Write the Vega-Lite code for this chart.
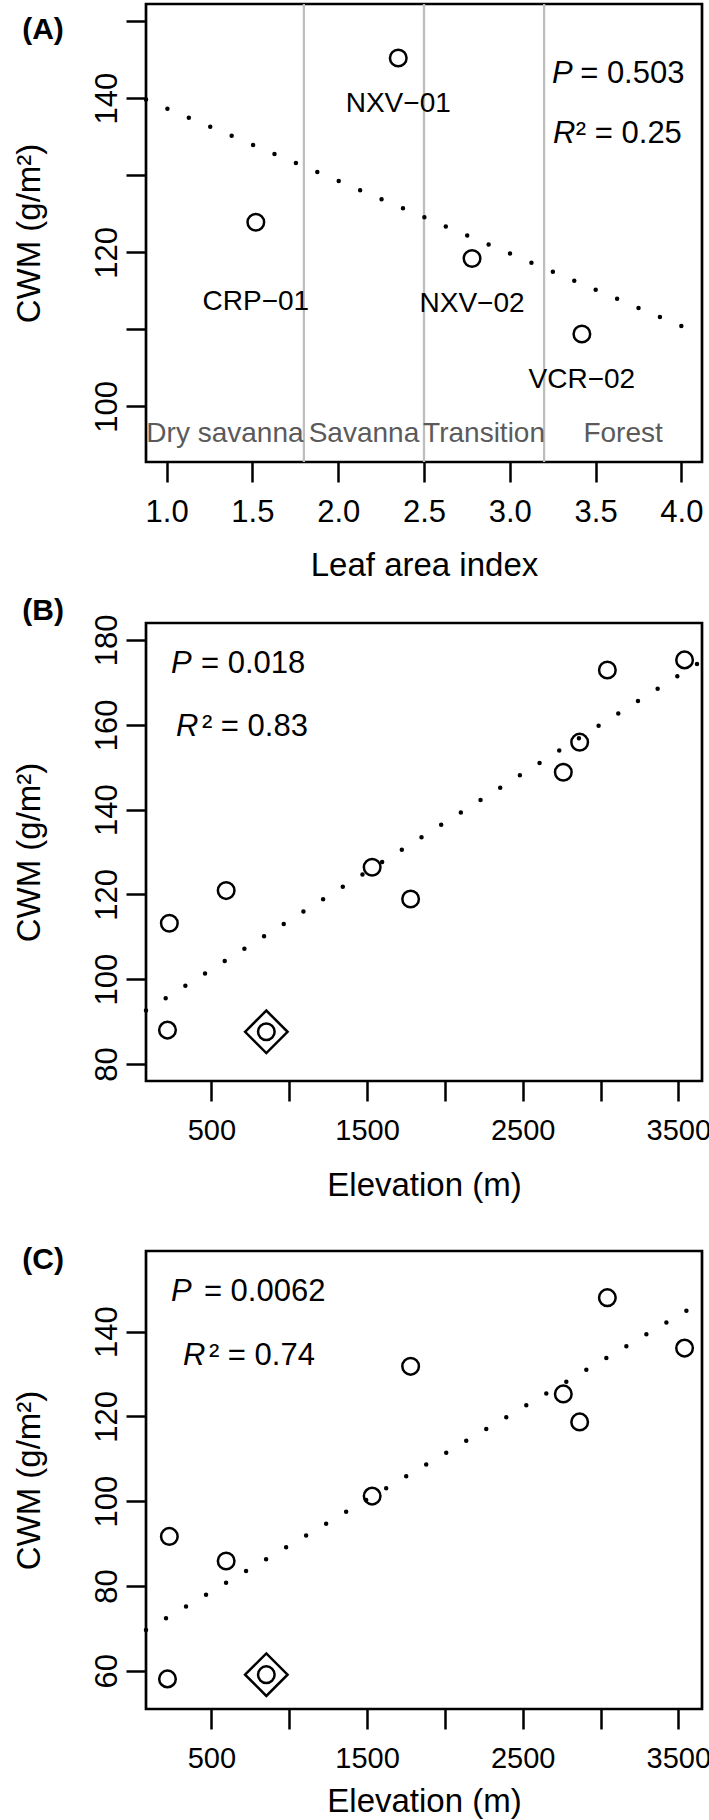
{
  "$schema": "https://vega.github.io/schema/vega-lite/v6.json",
  "background": "white",
  "padding": {"left": 11, "top": 1, "right": 0, "bottom": 0},
  "datasets": {
    "lai": [
      {"site": "CRP−01", "lai": 1.52, "cwm": 123.9},
      {"site": "NXV−01", "lai": 2.35, "cwm": 145.2},
      {"site": "NXV−02", "lai": 2.78, "cwm": 119.2},
      {"site": "VCR−02", "lai": 3.42, "cwm": 109.4}
    ],
    "zones": [
      {"zone": "Dry savanna", "mid": 1.34},
      {"zone": "Savanna", "mid": 2.15},
      {"zone": "Transition", "mid": 2.85},
      {"zone": "Forest", "mid": 3.66}
    ],
    "edges": [{"edge": 1.8}, {"edge": 2.5}, {"edge": 3.2}],
    "fitA": [{"lai": 0.88, "cwm": 139.8}, {"lai": 4.12, "cwm": 109.3}],
    "elev": [
      {"elev": 218, "b": 88.0, "c": 58.1, "marked": false},
      {"elev": 230, "b": 113.2, "c": 91.7, "marked": false},
      {"elev": 595, "b": 120.9, "c": 85.9, "marked": false},
      {"elev": 853, "b": 87.6, "c": 59.1, "marked": true},
      {"elev": 1533, "b": 126.4, "c": 101.2, "marked": false},
      {"elev": 1780, "b": 118.9, "c": 131.8, "marked": false},
      {"elev": 2761, "b": 148.8, "c": 125.3, "marked": false},
      {"elev": 2866, "b": 155.9, "c": 118.7, "marked": false},
      {"elev": 3044, "b": 172.9, "c": 148.0, "marked": false},
      {"elev": 3540, "b": 175.3, "c": 136.1, "marked": false}
    ],
    "fitB": [{"elev": 80, "cwm": 92.6}, {"elev": 3652, "cwm": 175.1}],
    "fitC": [{"elev": 80, "cwm": 69.6}, {"elev": 3652, "cwm": 147.1}]
  },
  "spacing": 10,
  "vconcat": [
    {
      "width": 556,
      "height": 458,
      "layer": [
        {
          "data": {"name": "edges"},
          "mark": {"type": "rule", "color": "#bebebe", "strokeWidth": 2.3},
          "encoding": {
            "x": {"field": "edge", "type": "quantitative", "title": "Leaf area index",
              "scale": {"domain": [0.88, 4.12], "nice": false, "zero": false},
              "axis": {"values": [1, 1.5, 2, 2.5, 3, 3.5, 4], "format": ".1f"}}
          }
        },
        {
          "data": {"name": "fitA"},
          "mark": {"type": "line", "color": "black", "strokeWidth": 4.5, "strokeCap": "round", "strokeDash": [0, 23.25]},
          "encoding": {
            "x": {"field": "lai", "type": "quantitative", "title": "Leaf area index"},
            "y": {"field": "cwm", "type": "quantitative", "title": "CWM (g/m²)",
              "scale": {"domain": [92.8, 152.2], "nice": false, "zero": false},
              "axis": {"values": [100, 110, 120, 130, 140, 150], "labelExpr": "datum.value % 20 == 0 ? datum.label : ''"}}
          }
        },
        {
          "data": {"name": "lai"},
          "mark": {"type": "point", "shape": "circle", "filled": false, "color": "black", "size": 275, "strokeWidth": 2.5, "opacity": 1},
          "encoding": {
            "x": {"field": "lai", "type": "quantitative", "title": "Leaf area index"},
            "y": {"field": "cwm", "type": "quantitative", "title": "CWM (g/m²)"}
          }
        },
        {
          "data": {"name": "lai"},
          "transform": [{"filter": "datum.site == 'CRP−01'"}],
          "mark": {"type": "text", "fontSize": 28, "align": "center", "baseline": "middle", "dy": 80},
          "encoding": {
            "x": {"field": "lai", "type": "quantitative", "title": "Leaf area index"},
            "y": {"field": "cwm", "type": "quantitative", "title": "CWM (g/m²)"},
            "text": {"field": "site"}
          }
        },
        {
          "data": {"name": "lai"},
          "transform": [{"filter": "datum.site != 'CRP−01'"}],
          "mark": {"type": "text", "fontSize": 28, "align": "center", "baseline": "middle", "dy": 46},
          "encoding": {
            "x": {"field": "lai", "type": "quantitative", "title": "Leaf area index"},
            "y": {"field": "cwm", "type": "quantitative", "title": "CWM (g/m²)"},
            "text": {"field": "site"}
          }
        },
        {
          "data": {"name": "zones"},
          "mark": {"type": "text", "fontSize": 28, "align": "center", "baseline": "middle", "color": "#5a5a5a"},
          "encoding": {
            "x": {"field": "mid", "type": "quantitative", "title": "Leaf area index"},
            "y": {"datum": 96.4, "type": "quantitative"},
            "text": {"field": "zone"}
          }
        },
        {
          "data": {"values": [{"t": "P"}]},
          "mark": {"type": "text", "fontSize": 31, "fontStyle": "italic", "align": "left", "baseline": "middle"},
          "encoding": {"x": {"datum": 3.246, "type": "quantitative"}, "y": {"datum": 143.1, "type": "quantitative"}, "text": {"field": "t"}}
        },
        {
          "data": {"values": [{"t": "= 0.503"}]},
          "mark": {"type": "text", "fontSize": 31, "align": "left", "baseline": "middle"},
          "encoding": {"x": {"datum": 3.41, "type": "quantitative"}, "y": {"datum": 143.1, "type": "quantitative"}, "text": {"field": "t"}}
        },
        {
          "data": {"values": [{"t": "R"}]},
          "mark": {"type": "text", "fontSize": 31, "fontStyle": "italic", "align": "left", "baseline": "middle"},
          "encoding": {"x": {"datum": 3.252, "type": "quantitative"}, "y": {"datum": 135.3, "type": "quantitative"}, "text": {"field": "t"}}
        },
        {
          "data": {"values": [{"t": "² = 0.25"}]},
          "mark": {"type": "text", "fontSize": 31, "align": "left", "baseline": "middle"},
          "encoding": {"x": {"datum": 3.385, "type": "quantitative"}, "y": {"datum": 135.3, "type": "quantitative"}, "text": {"field": "t"}}
        },
        {
          "data": {"values": [{"t": "(A)"}]},
          "mark": {"type": "text", "fontSize": 30, "fontWeight": "bold", "align": "center", "baseline": "middle"},
          "encoding": {"x": {"datum": 0.28, "type": "quantitative"}, "y": {"datum": 148.8, "type": "quantitative"}, "text": {"field": "t"}}
        }
      ]
    },
    {
      "spacing": 39,
      "vconcat": [
        {
          "width": 556,
          "height": 458,
          "layer": [
            {
              "data": {"name": "fitB"},
              "mark": {"type": "line", "color": "black", "strokeWidth": 4.5, "strokeCap": "round", "strokeDash": [0, 23.25]},
              "encoding": {
                "x": {"field": "elev", "type": "quantitative", "title": "Elevation (m)",
                  "scale": {"domain": [80, 3652], "nice": false, "zero": false},
                  "axis": {"values": [500, 1000, 1500, 2000, 2500, 3000, 3500], "format": "d", "labelFontSize": 29, "titlePadding": 24, "labelExpr": "datum.value % 1000 == 500 ? datum.label : ''"}},
                "y": {"field": "cwm", "type": "quantitative", "title": "CWM (g/m²)",
                  "scale": {"domain": [76, 184], "nice": false, "zero": false},
                  "axis": {"values": [80, 100, 120, 140, 160, 180]}}
              }
            },
            {
              "data": {"name": "elev"},
              "mark": {"type": "point", "shape": "circle", "filled": false, "color": "black", "size": 275, "strokeWidth": 2.5, "opacity": 1},
              "encoding": {
                "x": {"field": "elev", "type": "quantitative", "title": "Elevation (m)"},
                "y": {"field": "b", "type": "quantitative", "title": "CWM (g/m²)"}
              }
            },
            {
              "data": {"name": "elev"},
              "transform": [{"filter": "datum.marked"}],
              "mark": {"type": "point", "shape": "diamond", "filled": false, "color": "black", "size": 1806, "strokeWidth": 2.5, "opacity": 1},
              "encoding": {
                "x": {"field": "elev", "type": "quantitative", "title": "Elevation (m)"},
                "y": {"field": "b", "type": "quantitative", "title": "CWM (g/m²)"}
              }
            },
            {
              "data": {"values": [{"t": "P"}]},
              "mark": {"type": "text", "fontSize": 31, "fontStyle": "italic", "align": "left", "baseline": "middle"},
              "encoding": {"x": {"datum": 240, "type": "quantitative"}, "y": {"datum": 174.3, "type": "quantitative"}, "text": {"field": "t"}}
            },
            {
              "data": {"values": [{"t": "= 0.018"}]},
              "mark": {"type": "text", "fontSize": 31, "align": "left", "baseline": "middle"},
              "encoding": {"x": {"datum": 433, "type": "quantitative"}, "y": {"datum": 174.3, "type": "quantitative"}, "text": {"field": "t"}}
            },
            {
              "data": {"values": [{"t": "R"}]},
              "mark": {"type": "text", "fontSize": 31, "fontStyle": "italic", "align": "left", "baseline": "middle"},
              "encoding": {"x": {"datum": 272, "type": "quantitative"}, "y": {"datum": 159.5, "type": "quantitative"}, "text": {"field": "t"}}
            },
            {
              "data": {"values": [{"t": "² = 0.83"}]},
              "mark": {"type": "text", "fontSize": 31, "align": "left", "baseline": "middle"},
              "encoding": {"x": {"datum": 439, "type": "quantitative"}, "y": {"datum": 159.5, "type": "quantitative"}, "text": {"field": "t"}}
            },
            {
              "data": {"values": [{"t": "(B)"}]},
              "mark": {"type": "text", "fontSize": 30, "fontWeight": "bold", "align": "center", "baseline": "middle"},
              "encoding": {"x": {"datum": -581, "type": "quantitative"}, "y": {"datum": 186.8, "type": "quantitative"}, "text": {"field": "t"}}
            }
          ]
        },
        {
          "width": 556,
          "height": 458,
          "layer": [
            {
              "data": {"name": "fitC"},
              "mark": {"type": "line", "color": "black", "strokeWidth": 4.5, "strokeCap": "round", "strokeDash": [0, 23.25]},
              "encoding": {
                "x": {"field": "elev", "type": "quantitative", "title": "Elevation (m)",
                  "scale": {"domain": [80, 3652], "nice": false, "zero": false},
                  "axis": {"values": [500, 1000, 1500, 2000, 2500, 3000, 3500], "format": "d", "labelFontSize": 29, "titlePadding": 12, "labelExpr": "datum.value % 1000 == 500 ? datum.label : ''"}},
                "y": {"field": "cwm", "type": "quantitative", "title": "CWM (g/m²)",
                  "scale": {"domain": [51, 159], "nice": false, "zero": false},
                  "axis": {"values": [60, 80, 100, 120, 140]}}
              }
            },
            {
              "data": {"name": "elev"},
              "mark": {"type": "point", "shape": "circle", "filled": false, "color": "black", "size": 275, "strokeWidth": 2.5, "opacity": 1},
              "encoding": {
                "x": {"field": "elev", "type": "quantitative", "title": "Elevation (m)"},
                "y": {"field": "c", "type": "quantitative", "title": "CWM (g/m²)"}
              }
            },
            {
              "data": {"name": "elev"},
              "transform": [{"filter": "datum.marked"}],
              "mark": {"type": "point", "shape": "diamond", "filled": false, "color": "black", "size": 1806, "strokeWidth": 2.5, "opacity": 1},
              "encoding": {
                "x": {"field": "elev", "type": "quantitative", "title": "Elevation (m)"},
                "y": {"field": "c", "type": "quantitative", "title": "CWM (g/m²)"}
              }
            },
            {
              "data": {"values": [{"t": "P"}]},
              "mark": {"type": "text", "fontSize": 31, "fontStyle": "italic", "align": "left", "baseline": "middle"},
              "encoding": {"x": {"datum": 240, "type": "quantitative"}, "y": {"datum": 149.4, "type": "quantitative"}, "text": {"field": "t"}}
            },
            {
              "data": {"values": [{"t": "= 0.0062"}]},
              "mark": {"type": "text", "fontSize": 31, "align": "left", "baseline": "middle"},
              "encoding": {"x": {"datum": 452, "type": "quantitative"}, "y": {"datum": 149.4, "type": "quantitative"}, "text": {"field": "t"}}
            },
            {
              "data": {"values": [{"t": "R"}]},
              "mark": {"type": "text", "fontSize": 31, "fontStyle": "italic", "align": "left", "baseline": "middle"},
              "encoding": {"x": {"datum": 317, "type": "quantitative"}, "y": {"datum": 134.3, "type": "quantitative"}, "text": {"field": "t"}}
            },
            {
              "data": {"values": [{"t": "² = 0.74"}]},
              "mark": {"type": "text", "fontSize": 31, "align": "left", "baseline": "middle"},
              "encoding": {"x": {"datum": 484, "type": "quantitative"}, "y": {"datum": 134.3, "type": "quantitative"}, "text": {"field": "t"}}
            },
            {
              "data": {"values": [{"t": "(C)"}]},
              "mark": {"type": "text", "fontSize": 30, "fontWeight": "bold", "align": "center", "baseline": "middle"},
              "encoding": {"x": {"datum": -581, "type": "quantitative"}, "y": {"datum": 156.9, "type": "quantitative"}, "text": {"field": "t"}}
            }
          ]
        }
      ]
    }
  ],
  "config": {
    "font": "Liberation Sans",
    "view": {"stroke": "black", "strokeWidth": 2.7},
    "axis": {
      "grid": false, "domain": false,
      "tickColor": "black", "tickWidth": 2.5, "tickSize": 20,
      "labelColor": "black", "labelFontSize": 31, "labelFont": "Liberation Sans",
      "titleColor": "black", "titleFontSize": 33, "titleFontWeight": "normal", "titleFont": "Liberation Sans",
      "labelOverlap": false, "labelFlush": false
    },
    "axisX": {"labelPadding": 15, "titlePadding": 22},
    "axisY": {"labelAngle": 270, "labelAlign": "center", "labelBaseline": "alphabetic", "labelPadding": 10, "titlePadding": 45, "titleAngle": 270, "titleBaseline": "bottom"},
    "text": {"font": "Liberation Sans"}
  }
}
